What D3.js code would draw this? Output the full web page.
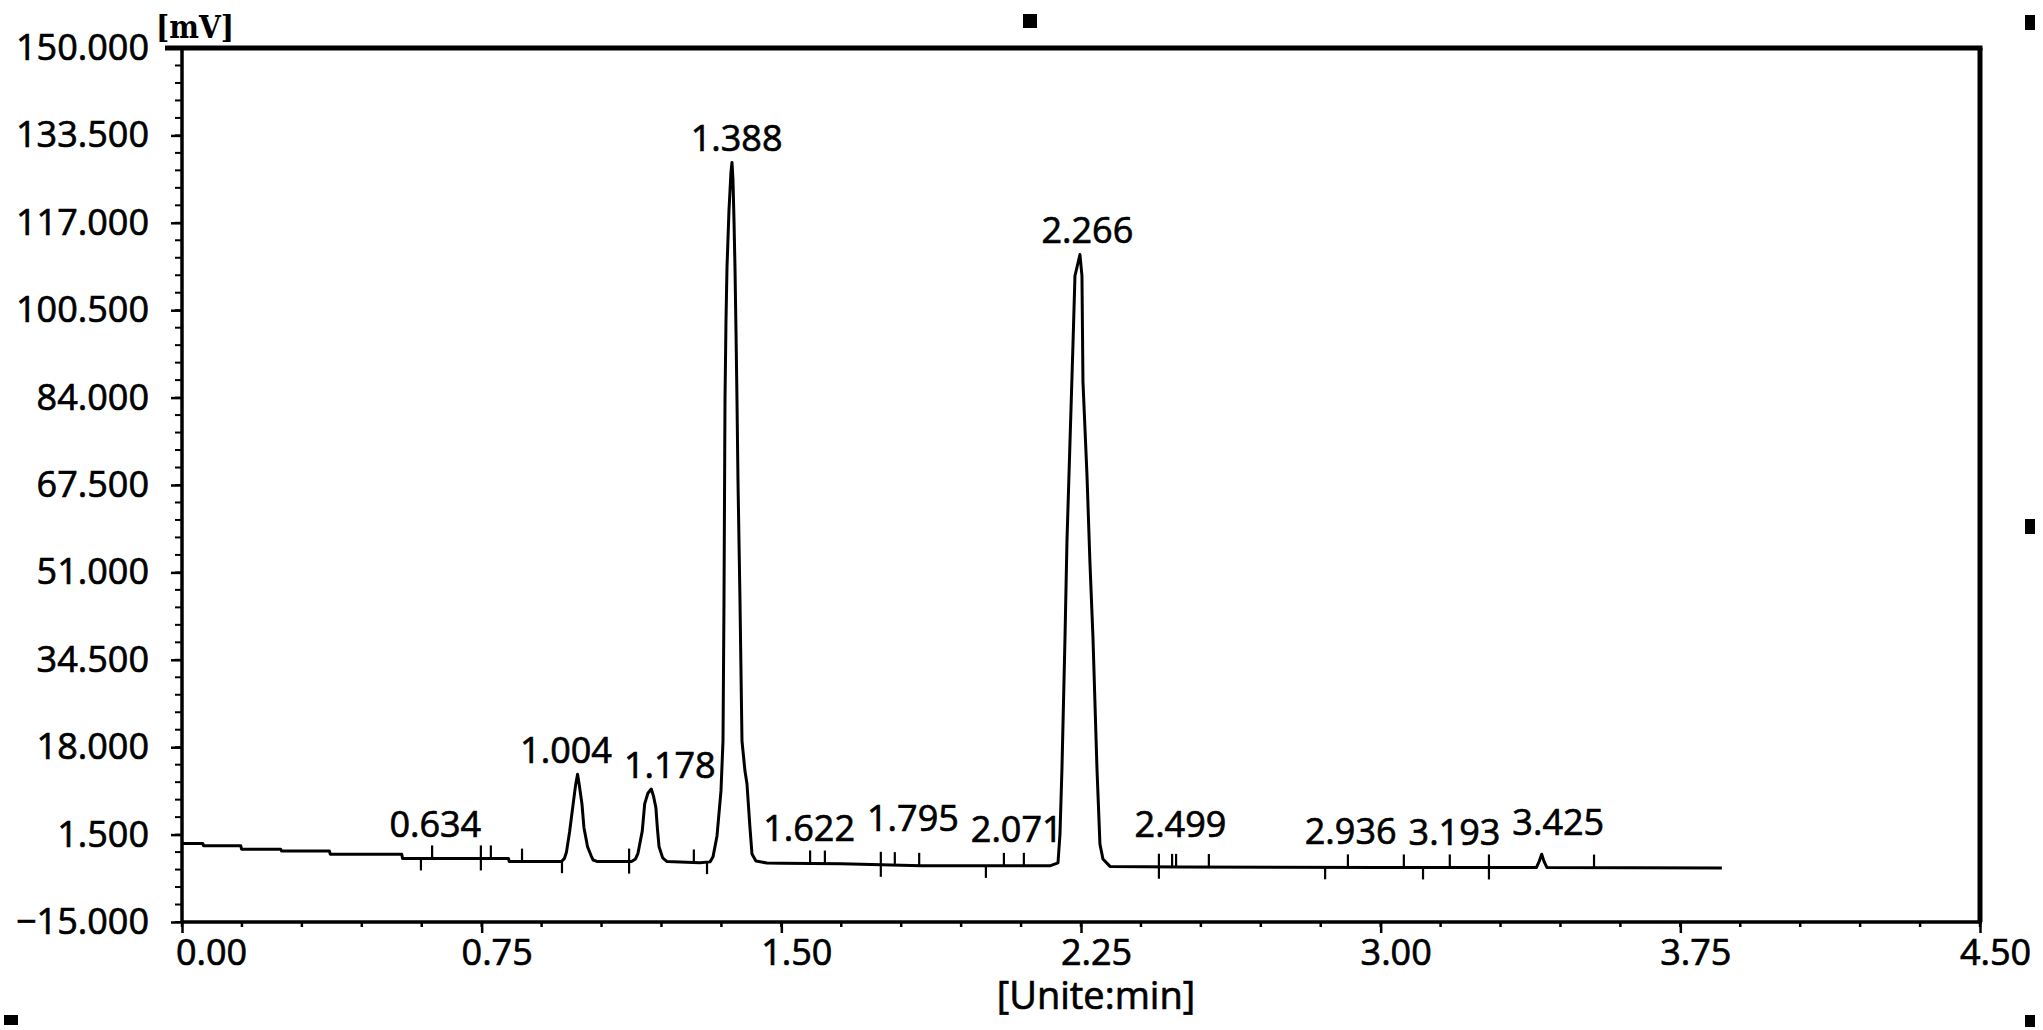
<!DOCTYPE html>
<html><head><meta charset="utf-8">
<script src="https://cdn.jsdelivr.net/npm/d3@7"></script>
<style>body{margin:0;background:#fff;overflow:hidden} svg{display:block}</style>
</head><body><svg id="c" width="2043" height="1030"></svg>
<script>
// ---- data ----
const yTickValues = [150, 133.5, 117, 100.5, 84, 67.5, 51, 34.5, 18, 1.5, -15];
const xTickValues = [0, 0.75, 1.5, 2.25, 3.0, 3.75, 4.5];
const peakTimes   = [0.634, 1.004, 1.178, 1.388, 1.622, 1.795, 2.071, 2.266, 2.499, 2.936, 3.193, 3.425];
const peakHeights = [-1.2, 12.9, 10.1, 128.4, -1.8, 0.0, -2.0, 111.0, -1.2, -2.4, -2.6, -0.8];
const traceTime = [
  0.000,0.052,0.054,0.147,0.149,0.247,0.249,0.369,0.371,0.550,0.552,0.817,0.819,
  0.950,0.957,0.962,0.970,0.979,0.985,0.990,0.994,1.001,1.006,1.015,1.024,1.029,1.040,
  1.125,1.135,1.141,1.152,1.158,1.166,1.1745,1.180,1.186,1.190,1.194,1.203,1.214,
  1.296,1.3215,1.329,1.339,1.349,1.354,1.3565,1.359,1.3615,1.364,1.369,1.374,1.3765,1.379,1.3815,1.384,1.3865,1.389,1.3915,1.3965,1.4015,1.409,1.414,1.4215,1.4265,1.4365,1.464,
  1.50,1.65,1.75,1.85,2.10,
  2.172,2.1924,2.1974,2.2024,2.2099,2.2149,2.2224,2.2299,2.2349,2.2474,2.2524,2.2549,2.2649,2.2724,2.2799,2.2899,2.2974,2.3049,2.3225,
  2.50,3.00,3.390,3.397,3.403,3.409,3.416,3.854
];
const traceValue = [
  -0.2,-0.2,-0.6,-0.6,-1.25,-1.25,-1.6,-1.6,-2.2,-2.2,-3.0,-3.0,-3.6,
  -3.6,-3.0,-1.9,2.0,7.3,10.8,12.9,11.0,7.3,2.8,-0.8,-2.5,-3.3,-3.6,
  -3.6,-3.1,-2.1,2.2,7.3,9.3,10.1,8.8,6.6,2.5,-0.8,-2.9,-3.6,
  -3.8,-3.65,-2.7,1.25,9.8,19.2,45.7,83.5,98.6,108.6,119.4,126.6,128.4,125.0,117.5,108.6,96.7,83.5,68.4,45.7,19.2,13.5,11.1,2.8,-2.15,-3.5,-3.85,
  -3.9,-4.0,-4.2,-4.4,-4.4,
  -4.4,-3.85,1.6,14.1,38.5,57.0,75.5,94.0,107.0,111.0,107.0,87.0,69.5,52.8,38.8,14.1,-0.3,-3.1,-4.5,
  -4.6,-4.7,-4.7,-3.5,-2.2,-3.6,-4.7,-4.8
];
const markerTimes = [0.598,0.626,0.748,0.773,0.851,0.951,1.119,1.281,1.314,1.572,1.609,1.749,1.784,1.845,2.012,2.057,2.107,2.445,2.478,2.488,2.570,2.861,2.918,3.058,3.106,3.173,3.271,3.534];
const markerKinds = ["down","up","cross","up","up","down","cross","up","down","up","up","cross","up","up","down","up","up","cross","up","up","up","down","up","up","down","up","cross","up"];
const yUnit = "[mV]";
const xUnit = "[Unite:min]";

// ---- layout ----
const L = 182, R = 1980, T = 48, B = 922;
const svg = d3.select("#c");
const xs = d3.scaleLinear().domain([0, 4.5]).range([L, R]);
const ys = d3.scaleLinear().domain([-15, 150]).range([B, T]);
const numFont = "'Open Sans', 'Noto Sans', sans-serif";
function styleNum(sel, size) {
  sel.attr("font-family", numFont).attr("font-size", size).attr("fill", "#000")
     .attr("stroke", "#000").attr("stroke-width", 0.7);
}

// minor ticks
const yMinor = d3.range(0, 51).map(i => -15 + i * 3.3);
const xMinor = d3.range(0, 31).map(i => i * 0.15);

svg.append("g").selectAll("line").data(yMinor).join("line")
  .attr("x1", L - 7).attr("x2", L).attr("y1", d => ys(d)).attr("y2", d => ys(d))
  .attr("stroke", "#000").attr("stroke-width", 2);
svg.append("g").selectAll("line").data(xMinor).join("line")
  .attr("x1", d => xs(d)).attr("x2", d => xs(d)).attr("y1", B).attr("y2", B + 5)
  .attr("stroke", "#000").attr("stroke-width", 2.5);

// y axis
const yAxis = d3.axisLeft(ys).tickValues(yTickValues).tickSize(11).tickPadding(22)
  .tickFormat(d3.format(".3f"));
const gy = svg.append("g").attr("transform", `translate(${L},0)`).call(yAxis);
gy.select(".domain").remove();
gy.selectAll(".tick line").attr("stroke", "#000").attr("stroke-width", 2.5);
styleNum(gy.selectAll(".tick text"), 36);

// x axis
const xAxis = d3.axisBottom(xs).tickValues(xTickValues).tickSize(11).tickPadding(6)
  .tickFormat(d3.format(".2f"));
const gx = svg.append("g").attr("transform", `translate(0,${B})`).call(xAxis);
gx.select(".domain").remove();
gx.selectAll(".tick line").attr("stroke", "#000").attr("stroke-width", 2.5);
styleNum(gx.selectAll(".tick text"), 36);
gx.selectAll(".tick text").attr("dx", (d, i) => i === 0 ? 29 : 15);

// frame
svg.append("line").attr("x1", L).attr("x2", L).attr("y1", T).attr("y2", B).attr("stroke", "#000").attr("stroke-width", 3.5);
svg.append("line").attr("x1", L).attr("x2", R + 2).attr("y1", B).attr("y2", B).attr("stroke", "#000").attr("stroke-width", 3.5);
svg.append("line").attr("x1", 165).attr("x2", R + 2.5).attr("y1", T).attr("y2", T).attr("stroke", "#000").attr("stroke-width", 5);
svg.append("line").attr("x1", R).attr("x2", R).attr("y1", T).attr("y2", B).attr("stroke", "#000").attr("stroke-width", 5);

// unit labels
svg.append("text").attr("x", 156).attr("y", 38).text(yUnit)
  .attr("font-family", "'DejaVu Serif', serif").attr("font-weight", "bold").attr("font-size", 31)
  .attr("fill", "#000").attr("textLength", 78).attr("lengthAdjust", "spacingAndGlyphs");
const xt = svg.append("text").attr("x", (L + R) / 2 + 15).attr("y", 1009).attr("text-anchor", "middle").text(xUnit);
styleNum(xt, 38);

// trace
const pts = traceTime.map((t, i) => [t, traceValue[i]]);
const line = d3.line().x(d => xs(d[0])).y(d => ys(d[1]));
svg.append("path").datum(pts).attr("d", line).attr("fill", "none")
  .attr("stroke", "#000").attr("stroke-width", 3).attr("stroke-linejoin", "round");

// integration markers
const bis = d3.bisector(d => d).left;
function baseAt(t) {
  const i = Math.max(1, Math.min(traceTime.length - 1, bis(traceTime, t)));
  const t0 = traceTime[i - 1], t1 = traceTime[i];
  const f = (t - t0) / (t1 - t0);
  return traceValue[i - 1] + f * (traceValue[i] - traceValue[i - 1]);
}
svg.append("g").selectAll("line").data(markerTimes).join("line")
  .attr("x1", d => xs(d)).attr("x2", d => xs(d))
  .attr("y1", (d, i) => ys(baseAt(d)) - (markerKinds[i] === "down" ? 0 : 13))
  .attr("y2", (d, i) => ys(baseAt(d)) + (markerKinds[i] === "up" ? 0 : 12))
  .attr("stroke", "#000").attr("stroke-width", 2.2);

// peak labels (simple collision avoidance along x)
const labels = peakTimes.map((t, i) => ({ t, x: xs(t), y: ys(peakHeights[i]) - 25, text: t.toFixed(3) }));
const lg = svg.append("g");
const lt = lg.selectAll("text").data(labels).join("text")
  .attr("text-anchor", "middle").attr("dominant-baseline", "central")
  .text(d => d.text);
styleNum(lt, 36);
lt.each(function (d) { d.w = this.getBBox().width; });
for (let it = 0; it < 30; it++) {
  for (let i = 0; i < labels.length - 1; i++) {
    const a = labels[i], b = labels[i + 1];
    if (Math.abs(a.y - b.y) > 45) continue;
    const need = (a.w + b.w) / 2 + 12 - (b.x - a.x);
    if (need > 0) { a.x -= need / 2; b.x += need / 2; }
  }
}
lt.attr("x", d => d.x).attr("y", d => d.y);

// window handles (decoration)
const handles = [[1023, 14, 14, 14], [2025, 15, 10, 15], [2025, 519, 10, 15], [4, 1015, 14, 10], [2025, 1015, 10, 12]];
svg.append("g").selectAll("rect").data(handles).join("rect")
  .attr("x", d => d[0]).attr("y", d => d[1]).attr("width", d => d[2]).attr("height", d => d[3]).attr("fill", "#000");
</script></body></html>
